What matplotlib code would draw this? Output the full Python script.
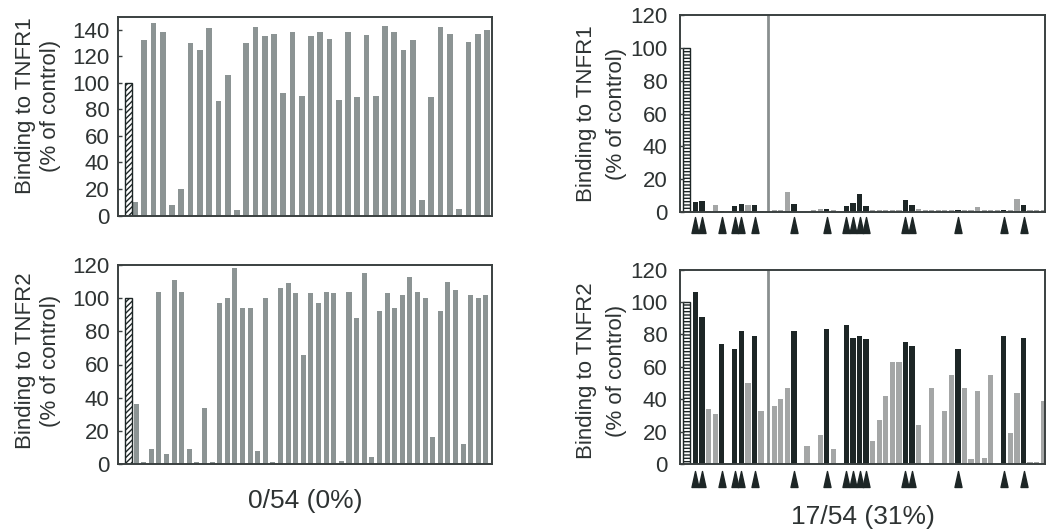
import matplotlib.pyplot as plt
import numpy as np
from matplotlib.path import Path

plt.rcParams['font.family'] = ['Liberation Sans', 'DejaVu Sans']
plt.rcParams['hatch.linewidth'] = 1.0

control = 100

# left: 0/54 mutants lose binding
tnfr1_left = [10, 132, 145, 138, 8, 20, 130, 125, 141, 86, 106, 4, 130, 142, 135,
              137, 92, 138, 90, 135, 138, 133, 87, 138, 89, 136, 90, 143, 138, 125,
              132, 12, 89, 142, 137, 5, 131, 137, 140]
tnfr2_left = [36, 1, 9, 104, 6, 111, 104, 9, 1, 34, 1, 97, 100, 118, 94, 94, 8, 100,
              1, 106, 109, 103, 66, 103, 97, 104, 103, 2, 104, 88, 115, 4, 92, 103,
              94, 102, 113, 104, 100, 16, 92, 110, 105, 12, 102, 100, 102]

# right: 54 mutants, 17 marked (lose TNFR1 binding, keep TNFR2)
tnfr1_right = [6, 7, 0.5, 4.5, 0.5, 0, 3.5, 5, 4.5, 4.5, 0.5, 0, 1, 1, 12, 5, 0, 0,
               1, 2, 2, 1.5, 0.5, 3.5, 5.5, 11, 3.5, 1.5, 1.5, 1.5, 1, 1.5, 7.5, 4,
               2, 1, 1, 1, 1, 1.5, 1.5, 1.5, 1, 3, 1.5, 1.5, 1, 1.5, 1, 8, 4, 1, 1, 1]
tnfr2_right = [106, 91, 34, 31, 74, 0, 71, 82, 50, 79, 33, 0, 36, 40, 47, 82, 0, 11,
               0, 18, 83, 9, 0, 86, 78, 79, 77, 14, 27, 42, 63, 63, 75, 73, 24, 0, 47,
               0, 33, 55, 71, 47, 3, 45, 4, 55, 0, 79, 19, 44, 78, 1, 1, 39]
marked = [1, 2, 5, 7, 8, 10, 16, 21, 24, 25, 26, 27, 33, 34, 41, 48, 51]

left_summary = '0/54 (0%)'
right_summary = '17/54 (31%)'

GRAY = '#8c9494'
LIGHT = '#a4a6a6'
DARK = '#1d2626'
FRAME = '#3a4040'
TEXT = '#2e3333'

fig = plt.figure(figsize=(10.46, 5.31), dpi=100)
W, H = 1046, 531


def make_ax(l, r, t, b):
    return fig.add_axes([l / W, 1 - b / H, (r - l) / W, (b - t) / H])


def style(ax, ylim, yticks, pad):
    ax.set_ylim(*ylim)
    ax.set_yticks(yticks)
    ax.set_xticks([])
    ax.tick_params(axis='y', direction='in', length=3, width=1, pad=pad,
                   labelsize=16, colors=FRAME, labelcolor=TEXT)
    for s in ax.spines.values():
        s.set_linewidth(1.4)
        s.set_color(FRAME)


def ylab(ax, text, y, ls):
    ax.text(-0.215, y, text, rotation=90, ha='center', va='center',
            transform=ax.transAxes, fontsize=16, linespacing=ls, color=TEXT)


# top left
ax = make_ax(118, 492, 16.5, 215.5)
x = np.arange(1, len(tnfr1_left) + 1)
ax.bar(x, tnfr1_left, width=0.62, color=GRAY)
ax.bar(0.3, control, width=0.75, facecolor='white', edgecolor=DARK, hatch='//////', lw=1)
ax.set_xlim(-0.84, 39.55)
style(ax, (0, 150), range(0, 141, 20), 6)
ylab(ax, 'Binding to TNFR1\n(% of control)', 0.55, 1.25)

# bottom left
ax = make_ax(118, 492, 265, 464)
x = np.arange(1, len(tnfr2_left) + 1)
ax.bar(x, tnfr2_left, width=0.66, color=GRAY)
ax.bar(-0.05, control, width=0.92, facecolor='white', edgecolor=DARK, hatch='//////', lw=1)
ax.set_xlim(-1.37, 47.8)
style(ax, (0, 120), range(0, 121, 20), 6)
ylab(ax, 'Binding to TNFR2\n(% of control)', 0.52, 1.25)
ax.text(0.5, -0.185, left_summary, transform=ax.transAxes, ha='center', va='center',
        fontsize=19, color=TEXT)

tri = Path([(-0.44, -1), (0.44, -1), (0, 1), (-0.44, -1)],
           [Path.MOVETO, Path.LINETO, Path.LINETO, Path.CLOSEPOLY])


def right_panel(ax, vals, label, ly, tri_y):
    slots = np.arange(1, len(vals) + 1)
    cols = [DARK if s in marked else LIGHT for s in slots]
    ax.bar(slots, vals, width=0.8, color=cols)
    ax.bar(-0.37, control, width=1.15, facecolor='white', edgecolor=DARK, hatch='-----', lw=1)
    ax.axvline(12.1, color='#8a8f8f', lw=2)
    ax.set_xlim(-1.36, 54.27)
    style(ax, (0, 120), range(0, 121, 20), 9)
    ylab(ax, label, ly, 1.6)
    ax.plot(marked, [tri_y] * len(marked), ls='none', marker=tri, ms=11.5,
            color=DARK, transform=ax.get_xaxis_transform(), clip_on=False)


ax = make_ax(680, 1045, 15, 212)
right_panel(ax, tnfr1_right, 'Binding to TNFR1\n(% of control)', 0.5, -0.066)

ax = make_ax(680, 1045, 269.5, 464)
right_panel(ax, tnfr2_right, 'Binding to TNFR2\n(% of control)', 0.48, -0.079)
ax.text(0.5, -0.27, right_summary, transform=ax.transAxes, ha='center', va='center',
        fontsize=19, color=TEXT)

fig.savefig('out.png', dpi=100)
